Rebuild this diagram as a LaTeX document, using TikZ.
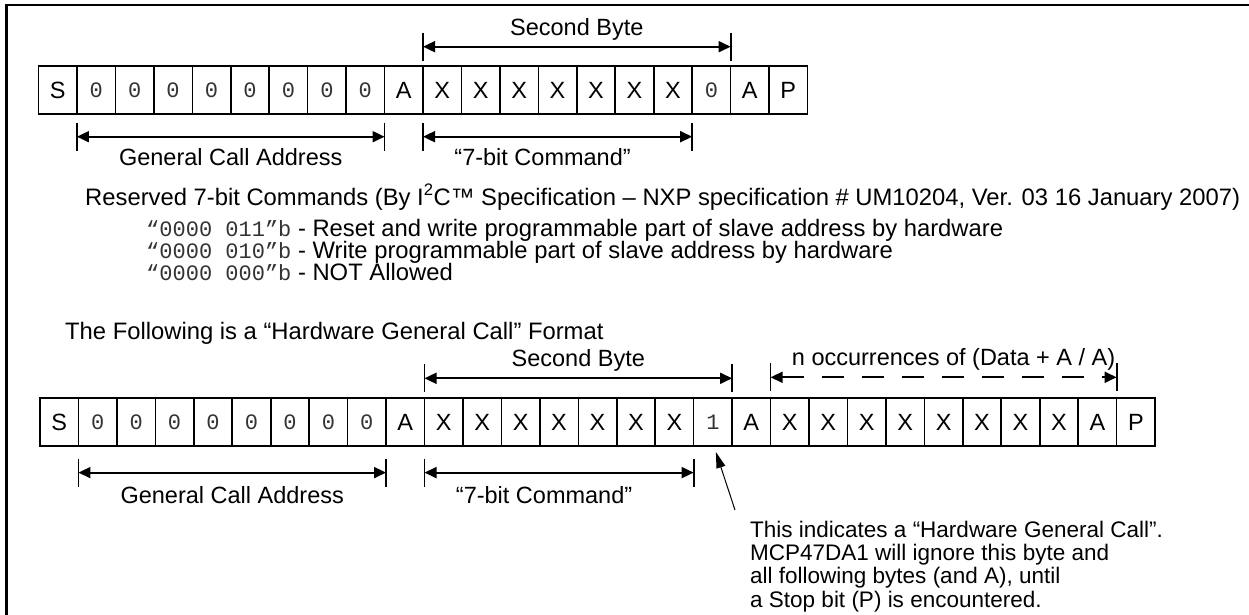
\documentclass[tikz,border=0pt]{standalone}
\usepackage{fontspec}
\setmainfont{Liberation Sans}
\setmonofont{Liberation Mono}
\usetikzlibrary{arrows.meta,calc,positioning}
\newcommand{\zb}{{\ttfamily\fontsize{22}{24}\selectfont\color{black!80}0}}
\newcommand{\ob}{{\ttfamily\fontsize{22}{24}\selectfont\color{black!80}1}}
\newcommand{\cmdbits}[1]{{\ttfamily\fontsize{22}{24}\selectfont\color{black!80}#1}}
\tikzset{
  frame/.style={line width=2.2pt},
  cell/.style={
    draw,
    line width=1.6pt,
    minimum width=38.45pt,
    minimum height=48pt,
    inner sep=0pt,
    outer sep=0pt,
    anchor=west,
    font=\fontsize{23.5}{26}\selectfont
  },
  dim/.style={
    line width=1.8pt,
    {Triangle[length=12pt,width=11pt]}-{Triangle[length=12pt,width=11pt]}
  },
  dimdash/.style={dim, dash pattern=on 22pt off 18pt},
  tick/.style={line width=1.8pt},
  lbl/.style={font=\fontsize{23.5}{26}\selectfont, inner sep=0pt, anchor=base},
  prose/.style={font=\fontsize{23.8}{26}\selectfont, inner sep=0pt, anchor=base west},
  callout/.style={line width=1pt, -{Triangle[length=16pt,width=9pt]}}
}
\newcommand{\dimticks}[2]{%
  \draw[tick] ($(#1)+(0,-14)$) -- ($(#1)+(0,14)$);
  \draw[tick] ($(#2)+(0,-14)$) -- ($(#2)+(0,14)$);
}

\begin{document}
\begin{tikzpicture}[x=1pt,y=-1pt]
  \useasboundingbox (0,0) rectangle (1249,615);
  \draw[frame] (1249,5) -- (6.5,5) -- (6.5,615);

  % general call, normal command
  \foreach \lab [count=\i] in {S,\zb,\zb,\zb,\zb,\zb,\zb,\zb,\zb,A,X,X,X,X,X,X,X,\zb,A,P}
    \node[cell] (t\i) at ({38.5+(\i-1)*38.45},90) {\lab};

  \coordinate (tsbL) at ($(t11.north west)+(0,-19.3)$);
  \coordinate (tsbR) at ($(t18.north east)+(0,-19.3)$);
  \draw[dim] (tsbL) -- (tsbR);
  \dimticks{tsbL}{tsbR}
  \node[lbl] (tsbtext) at ($(tsbL)!0.5!(tsbR)+(0,-10.7)$) {Second Byte};

  \coordinate (tgaL) at ($(t2.south west)+(0,22.7)$);
  \coordinate (tgaR) at ($(t9.south east)+(0,22.7)$);
  \draw[dim] (tgaL) -- (tgaR);
  \dimticks{tgaL}{tgaR}
  \node[lbl] (tgatext) at ($(tgaL)!0.5!(tgaR)+(0,28.3)$) {General Call Address};

  \coordinate (tcmL) at ($(t11.south west)+(0,22.7)$);
  \coordinate (tcmR) at ($(t17.south east)+(0,22.7)$);
  \draw[dim] (tcmL) -- (tcmR);
  \dimticks{tcmL}{tcmR}
  \node[lbl] (tcmtext) at ($(tcmL)!0.5!(tcmR)+(-15,28.3)$) {“7-bit Command”};

  % reserved commands
  \node[prose] (resv) at (85,205) {Reserved 7-bit Commands (By I\textsuperscript{2}C™ Specification – NXP specification \# UM10204, Ver. 03 16 January 2007)};
  \node[prose] (cmd1) at (146,236) {\cmdbits{“0000 011”b} - Reset and write programmable part of slave address by hardware};
  \node[prose] (cmd2) at (146,258) {\cmdbits{“0000 010”b} - Write programmable part of slave address by hardware};
  \node[prose] (cmd3) at (146,280) {\cmdbits{“0000 000”b} - NOT Allowed};

  \node[prose] (hwhead) at (65,339) {The Following is a “Hardware General Call” Format};

  % hardware general call
  \foreach \lab [count=\i] in {S,\zb,\zb,\zb,\zb,\zb,\zb,\zb,\zb,A,X,X,X,X,X,X,X,\ob,A,X,X,X,X,X,X,X,X,A,P}
    \node[cell] (b\i) at ({40+(\i-1)*38.45},422) {\lab};

  \coordinate (bsbL) at ($(b11.north west)+(0,-19.7)$);
  \coordinate (bsbR) at ($(b18.north east)+(0,-19.7)$);
  \draw[dim] (bsbL) -- (bsbR);
  \dimticks{bsbL}{bsbR}
  \node[lbl] (bsbtext) at ($(bsbL)!0.5!(bsbR)+(0,-11.6)$) {Second Byte};

  \coordinate (bnL) at ($(b20.north west)+(0,-20.7)$);
  \coordinate (bnR) at ($(b28.north east)+(0,-20.7)$);
  \draw[dim, dimdash] (bnL) -- (bnR);
  \dimticks{bnL}{bnR}
  \node[lbl] (bntext) at ($(bnL)!0.5!(bnR)+(10,-11.6)$) {n occurrences of (Data + A / A)};

  \coordinate (bgaL) at ($(b2.south west)+(0,26.6)$);
  \coordinate (bgaR) at ($(b9.south east)+(0,26.6)$);
  \draw[dim] (bgaL) -- (bgaR);
  \dimticks{bgaL}{bgaR}
  \node[lbl] (bgatext) at ($(bgaL)!0.5!(bgaR)+(0,30.4)$) {General Call Address};

  \coordinate (bcmL) at ($(b11.south west)+(0,26.6)$);
  \coordinate (bcmR) at ($(b17.south east)+(0,26.6)$);
  \draw[dim] (bcmL) -- (bcmR);
  \dimticks{bcmL}{bcmR}
  \node[lbl] (bcmtext) at ($(bcmL)!0.5!(bcmR)+(-15,30.4)$) {“7-bit Command”};

  \node[prose, anchor=north west, align=left, font=\fontsize{22.5}{23.2}\selectfont] (hwnote) at (750,521)
    {This indicates a “Hardware General Call”.\\MCP47DA1 will ignore this byte and\\all following bytes (and A), until\\a Stop bit (P) is encountered.};
  \coordinate (hwtip) at ($(b18.south)+(3,6)$);
  \coordinate (hwtail) at ($(hwnote.north west)+(-15,-11)$);
  \draw[callout] (hwtail) -- (hwtip);
\end{tikzpicture}
\end{document}
